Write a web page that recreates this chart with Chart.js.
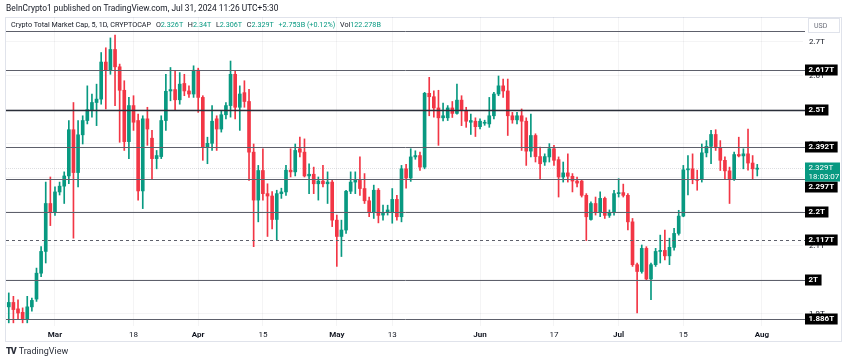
<!DOCTYPE html>
<html>
<head>
<meta charset="utf-8">
<title>Crypto Total Market Cap - 1D</title>
<script src="https://cdn.jsdelivr.net/npm/chart.js"></script>
<style>
  body { margin: 0; background: #fff; font-family: Roboto, "Open Sans", sans-serif; }
  #wrap { position: relative; width: 850px; height: 362px; overflow: hidden; }
  #chart { position: absolute; left: 0; top: 0; }
  .hdr1 { position: absolute; left: 6px; top: 3px; font-size: 8.4px; color: #131722; white-space: nowrap; }
  .hdr2 { position: absolute; left: 11px; top: 19.5px; font-size: 7.2px; color: #131722; white-space: nowrap; }
  .hdr2 .v { color: #089981; }
  .hdr2 b { font-weight: normal; margin-left: 3px; }
  .logo { position: absolute; left: 6px; top: 346px; font-size: 9px; color: #2a2e39; white-space: nowrap; }
  .logo .tv { font-weight: 900; letter-spacing: -1px; margin-right: 3px; }
</style>
</head>
<body>
<div id="wrap">
  <canvas id="chart" width="850" height="362"></canvas>
  <div class="hdr1">BeInCrypto1 published on TradingView.com, Jul 31, 2024 11:26 UTC+5:30</div>
  <div class="hdr2">Crypto Total Market Cap, 5, 1D, CRYPTOCAP <b>O<span class="v">2.326T</span></b> <b>H<span class="v">2.34T</span></b> <b>L<span class="v">2.306T</span></b> <b>C<span class="v">2.329T</span></b> <b><span class="v">+2.753B (+0.12%)</span></b> <b>Vol<span class="v">122.278B</span></b></div>
  <div class="logo"><span class="tv">TV</span>TradingView</div>
</div>
<script>
// daily candles, Feb 20 -> Jul 31 2024, values in trillion USD
// x is the day count from Mar 1 (Feb 20 = -10)
var startDay = -10;

var opens = [
	1.921,1.934,1.915,1.905,1.884,1.921,1.944,2.020,2.084,2.225,
	2.201,2.259,2.276,2.306,2.442,2.316,2.427,2.469,2.501,2.522,
	2.532,2.641,2.617,2.678,2.627,2.558,2.407,2.513,2.469,2.262,
	2.474,2.417,2.357,2.363,2.469,2.556,2.560,2.530,2.578,2.556,
	2.547,2.617,2.537,2.391,2.402,2.474,2.444,2.486,2.513,2.605,
	2.508,2.551,2.525,2.376,2.235,2.322,2.254,2.247,2.178,2.254,
	2.259,2.323,2.318,2.386,2.376,2.306,2.311,2.283,2.291,2.283,
	2.288,2.176,2.128,2.147,2.261,2.288,2.293,2.269,2.233,2.198,
	2.264,2.191,2.198,2.201,2.237,2.186,2.327,2.300,2.362,2.366,
	2.332,2.549,2.539,2.506,2.477,2.477,2.506,2.490,2.529,2.498,
	2.464,2.467,2.451,2.461,2.459,2.483,2.547,2.571,2.556,2.483,
	2.471,2.483,2.467,2.379,2.425,2.363,2.347,2.362,2.386,2.354,
	2.303,2.315,2.305,2.291,2.291,2.249,2.178,2.225,2.198,2.240,
	2.190,2.198,2.254,2.257,2.249,2.171,2.045,2.025,2.093,2.003,
	2.045,2.084,2.087,2.071,2.096,2.137,2.188,2.324,2.327,2.295,
	2.295,2.374,2.393,2.428,2.389,2.352,2.321,2.298,2.369,2.365,
	2.371,2.344,2.326
];
var highs = [
	1.962,1.952,1.942,1.918,1.952,1.947,2.035,2.098,2.288,2.303,
	2.274,2.288,2.318,2.469,2.522,2.469,2.483,2.571,2.547,2.576,
	2.669,2.683,2.712,2.720,2.635,2.586,2.537,2.542,2.488,2.483,
	2.508,2.440,2.381,2.483,2.605,2.625,2.617,2.610,2.605,2.571,
	2.630,2.623,2.542,2.420,2.513,2.483,2.498,2.522,2.644,2.617,
	2.571,2.586,2.561,2.400,2.337,2.386,2.283,2.260,2.264,2.270,
	2.337,2.386,2.400,2.420,2.415,2.342,2.332,2.303,2.337,2.318,
	2.293,2.191,2.176,2.264,2.318,2.318,2.362,2.313,2.244,2.279,
	2.269,2.220,2.220,2.269,2.249,2.337,2.340,2.386,2.380,2.376,
	2.552,2.596,2.556,2.558,2.520,2.513,2.525,2.576,2.542,2.508,
	2.488,2.477,2.474,2.470,2.537,2.552,2.600,2.591,2.591,2.493,
	2.493,2.503,2.477,2.488,2.430,2.391,2.371,2.401,2.396,2.362,
	2.347,2.371,2.313,2.303,2.293,2.254,2.230,2.244,2.259,2.244,
	2.206,2.264,2.298,2.282,2.254,2.181,2.050,2.103,2.098,2.050,
	2.093,2.132,2.147,2.123,2.152,2.205,2.337,2.366,2.371,2.323,
	2.400,2.410,2.440,2.442,2.410,2.362,2.332,2.376,2.420,2.386,
	2.444,2.366,2.340
];
var lows = [
	1.874,1.874,1.884,1.874,1.874,1.908,1.937,2.010,2.050,2.160,
	2.190,2.250,2.225,2.283,2.123,2.274,2.400,2.459,2.479,2.454,
	2.517,2.503,2.605,2.513,2.405,2.381,2.357,2.440,2.235,2.210,
	2.396,2.298,2.327,2.357,2.440,2.527,2.498,2.517,2.542,2.537,
	2.537,2.493,2.352,2.342,2.381,2.381,2.435,2.474,2.479,2.474,
	2.440,2.508,2.293,2.098,2.171,2.235,2.128,2.150,2.118,2.240,
	2.249,2.303,2.306,2.362,2.303,2.254,2.254,2.235,2.274,2.225,
	2.157,2.040,2.069,2.137,2.254,2.254,2.249,2.225,2.186,2.181,
	2.168,2.176,2.191,2.167,2.176,2.171,2.270,2.290,2.355,2.322,
	2.327,2.483,2.479,2.396,2.468,2.469,2.478,2.488,2.454,2.449,
	2.428,2.422,2.444,2.455,2.449,2.474,2.542,2.537,2.425,2.461,
	2.459,2.381,2.337,2.362,2.347,2.298,2.337,2.347,2.337,2.244,
	2.288,2.288,2.259,2.274,2.244,2.116,2.176,2.191,2.186,2.181,
	2.184,2.191,2.244,2.244,2.147,2.040,1.903,2.020,1.999,1.942,
	2.040,2.050,2.059,2.045,2.088,2.132,2.186,2.250,2.283,2.264,
	2.288,2.362,2.342,2.381,2.322,2.298,2.225,2.293,2.362,2.327,
	2.323,2.295,2.306
];
var closes = [
	1.934,1.913,1.903,1.884,1.921,1.940,2.020,2.084,2.225,2.201,
	2.259,2.276,2.306,2.442,2.316,2.427,2.469,2.501,2.522,2.532,
	2.641,2.617,2.678,2.627,2.558,2.407,2.513,2.464,2.262,2.474,
	2.444,2.357,2.366,2.469,2.555,2.560,2.530,2.576,2.556,2.547,
	2.617,2.537,2.391,2.402,2.467,2.444,2.486,2.513,2.605,2.508,
	2.547,2.525,2.376,2.235,2.322,2.254,2.247,2.178,2.254,2.259,
	2.323,2.318,2.381,2.376,2.306,2.311,2.283,2.291,2.283,2.288,
	2.176,2.128,2.147,2.261,2.288,2.293,2.269,2.233,2.198,2.264,
	2.190,2.198,2.206,2.237,2.186,2.327,2.300,2.362,2.366,2.332,
	2.549,2.539,2.506,2.477,2.483,2.506,2.490,2.529,2.498,2.467,
	2.469,2.451,2.467,2.463,2.483,2.547,2.571,2.556,2.483,2.471,
	2.483,2.467,2.379,2.425,2.363,2.342,2.363,2.386,2.352,2.303,
	2.315,2.305,2.291,2.285,2.249,2.186,2.225,2.198,2.240,2.190,
	2.198,2.254,2.257,2.249,2.171,2.045,2.025,2.093,2.003,2.045,
	2.084,2.087,2.071,2.096,2.137,2.188,2.324,2.327,2.295,2.293,
	2.374,2.393,2.428,2.389,2.352,2.321,2.298,2.369,2.365,2.371,
	2.344,2.327,2.329
];

// time axis
var tickDays = [0, 17, 31, 45, 61, 73, 92, 108, 122, 136, 153];
var tickLabels = ['Mar', '18', 'Apr', '15', 'May', '13', 'Jun', '17', 'Jul', '15', 'Aug'];
// price axis
var priceTicks = [1.9, 2.0, 2.1, 2.2, 2.3, 2.4, 2.5, 2.6, 2.7];

// horizontal levels drawn by the author
var levelValues = [2.731, 2.617, 2.5, 2.392, 2.297, 2.2, 2.117, 2.0, 1.886];
var levelLabels = ['', '2.617T', '2.5T', '2.392T', '2.297T', '2.2T', '2.117T', '2T', '1.886T'];

var lastPrice = closes[closes.length - 1];
var lastPriceLabel = '2.329T';
var countdown = '18:03:07';

var UP = '#089981', DOWN = '#f23645';
var GRID = 'rgba(42,46,57,0.05)';

var bodyData = [], wickData = [], candleColors = [];
for (var i = 0; i < opens.length; i++) {
	bodyData.push({x: startDay + i, y: [opens[i], closes[i]]});
	wickData.push({x: startDay + i, y: [lows[i], highs[i]]});
	candleColors.push(closes[i] >= opens[i] ? UP : DOWN);
}

function tag(ctx, x, yc, text, bg, fg) {
	ctx.font = 'bold 8px Roboto';
	var w = ctx.measureText(text).width + 7;
	ctx.fillStyle = bg;
	ctx.fillRect(x, Math.round(yc) - 5.5, w, 11);
	ctx.fillStyle = fg;
	ctx.textBaseline = 'middle';
	ctx.textAlign = 'left';
	ctx.fillText(text, x + 3.5, Math.round(yc));
}

var overlay = {
	id: 'overlay',
	beforeDraw: function(chart) {
		var ctx = chart.ctx, a = chart.chartArea;
		var xs = chart.scales.x, ys = chart.scales.y;
		ctx.save();
		ctx.strokeStyle = '#e0e3eb';
		ctx.lineWidth = 1;
		ctx.strokeRect(a.left - 0.5, a.top + 0.5, ys.right - a.left + 1, xs.bottom - a.top);
		ctx.restore();
	},
	beforeDatasetsDraw: function(chart) {
		// current price line
		var ctx = chart.ctx, a = chart.chartArea, ys = chart.scales.y;
		var y = Math.round(ys.getPixelForValue(lastPrice)) + 0.5;
		ctx.save();
		ctx.strokeStyle = 'rgba(120,123,134,0.25)';
		ctx.setLineDash([1, 1]);
		ctx.beginPath();
		ctx.moveTo(a.left, y);
		ctx.lineTo(a.right, y);
		ctx.stroke();
		ctx.restore();
	},
	afterDatasetsDraw: function(chart) {
		var ctx = chart.ctx, a = chart.chartArea, ys = chart.scales.y;
		ctx.save();
		for (var i = 0; i < levelValues.length; i++) {
			var y = Math.round(ys.getPixelForValue(levelValues[i])) + 0.5;
			ctx.strokeStyle = levelValues[i] === 2.5 ? '#2a2e39' : '#5d606b';
			ctx.lineWidth = levelValues[i] === 2.5 ? 1.4 : 1;
			ctx.setLineDash(levelValues[i] === 2.117 ? [3, 3] : []);
			ctx.beginPath();
			ctx.moveTo(a.left, y);
			ctx.lineTo(ys.left + 2, y);
			ctx.stroke();
		}
		ctx.restore();
	},
	afterDraw: function(chart) {
		var ctx = chart.ctx, a = chart.chartArea, ys = chart.scales.y;
		var bx = ys.left + 2;
		var py = Math.round(ys.getPixelForValue(lastPrice));
		var gTop = py - 5.5, gBot = py + 13.5;
		ctx.save();
		for (var i = 0; i < levelValues.length; i++) {
			if (!levelLabels[i]) continue;
			var yc = ys.getPixelForValue(levelValues[i]);
			// keep labels clear of the last price tag
			if (yc + 5.5 > gTop && yc - 5.5 < gBot) {
				yc = yc > py ? gBot + 5.5 : gTop - 5.5;
			}
			tag(ctx, bx, yc, levelLabels[i], '#000', '#fff');
		}
		// last price tag with countdown
		ctx.fillStyle = UP;
		ctx.fillRect(bx, gTop, ys.right - bx - 1, gBot - gTop);
		ctx.fillStyle = '#fff';
		ctx.font = '8px Roboto';
		ctx.textBaseline = 'middle';
		ctx.textAlign = 'left';
		ctx.fillText(lastPriceLabel, bx + 3.5, py);
		ctx.fillText(countdown, bx + 3.5, py + 8.5);
		// USD box
		ctx.fillStyle = '#fff';
		ctx.fillRect(ys.left + 5, a.top + 1, ys.right - ys.left - 6, 15);
		ctx.strokeStyle = '#e0e3eb';
		ctx.strokeRect(ys.left + 5.5, a.top + 1.5, ys.right - ys.left - 7, 14);
		ctx.fillStyle = '#6a6d78';
		ctx.font = '7px Roboto';
		ctx.fillText('USD', ys.left + 11, a.top + 9);
		ctx.restore();
	}
};

var chart = new Chart(document.getElementById('chart').getContext('2d'), {
	type: 'bar',
	data: {
		datasets: [
			{
				label: 'body',
				data: bodyData,
				backgroundColor: candleColors,
				barThickness: 3,
				minBarLength: 1,
				grouped: false,
				order: 0
			},
			{
				label: 'wick',
				data: wickData,
				backgroundColor: candleColors,
				barThickness: 1,
				grouped: false,
				order: 1
			}
		]
	},
	options: {
		responsive: false,
		animation: false,
		devicePixelRatio: 1,
		layout: { padding: { left: 6, top: 17, right: 9, bottom: 21 } },
		plugins: { legend: { display: false }, tooltip: { enabled: false } },
		scales: {
			x: {
				type: 'linear',
				min: -10.6,
				max: 161.9,
				offset: false,
				grid: { color: GRID, drawTicks: false, offset: false },
				border: { display: false },
				afterBuildTicks: function(s) {
					s.ticks = tickDays.map(function(v) { return {value: v}; });
				},
				afterFit: function(s) { s.height = 15; },
				ticks: {
					autoSkip: false,
					maxRotation: 0,
					padding: 4,
					color: '#131722',
					font: function(c) {
						var lbl = tickLabels[c.index] || '';
						return { family: 'Roboto', size: 8, weight: isNaN(lbl) ? 'bold' : 'normal' };
					},
					callback: function(v, idx) { return tickLabels[idx]; }
				}
			},
			y: {
				position: 'right',
				min: 1.8647,
				max: 2.7735,
				grid: { color: GRID, drawTicks: false },
				border: { display: false },
				afterBuildTicks: function(s) {
					s.ticks = priceTicks.map(function(v) { return {value: v}; });
				},
				afterFit: function(s) { s.width = 38; },
				ticks: {
					padding: 6,
					color: '#131722',
					font: { family: 'Roboto', size: 8 },
					callback: function(v) { return parseFloat(v.toFixed(1)) + 'T'; }
				}
			}
		}
	},
	plugins: [overlay]
});
</script>
</body>
</html>
